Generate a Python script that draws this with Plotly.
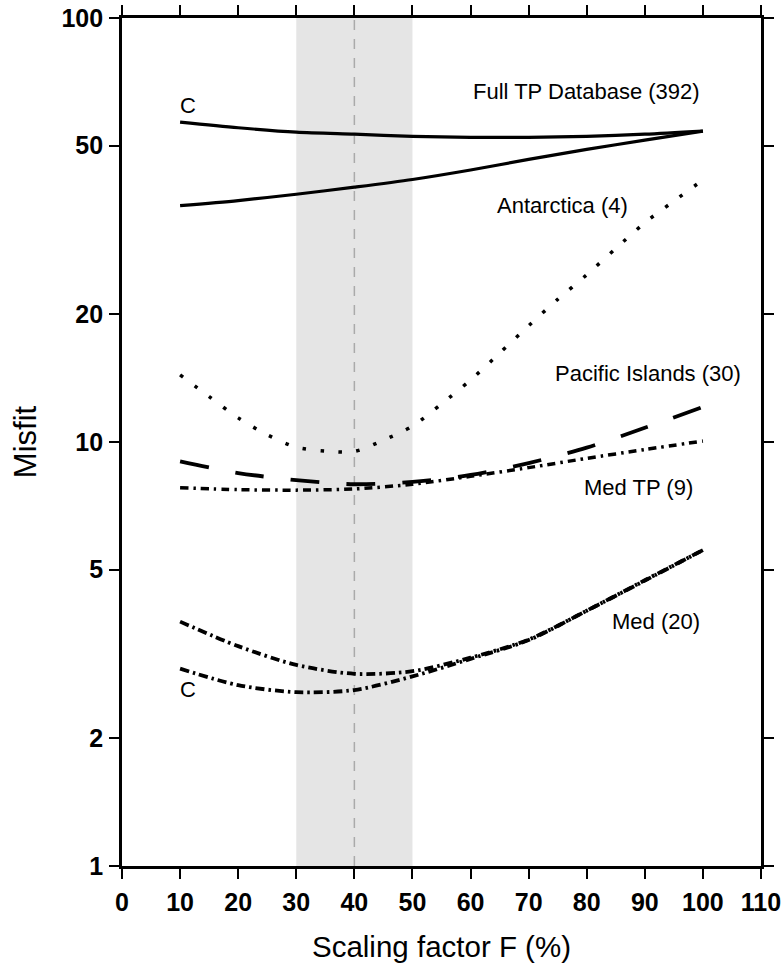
import math
import plotly.graph_objects as go

# Scaling factor F (%) at which the misfit was evaluated
F = [10, 20, 30, 40, 50, 60, 70, 80, 90, 100]
F5 = [10, 15, 20, 25, 30, 35, 40, 45, 50, 55, 60, 65, 70, 75, 80, 85, 90, 95, 100]

# Misfit curves
full_tp = [36.1, 37.1, 38.4, 39.9, 41.6, 43.8, 46.4, 49.0, 51.5, 54.1]
full_tp_c = [56.8, 55.1, 53.8, 53.2, 52.6, 52.3, 52.3, 52.6, 53.2, 54.1]
antarctica = [14.4, 12.8, 11.4, 10.4, 9.72, 9.52, 9.5, 10.1, 10.9, 12.3, 14.0,
              16.2, 18.8, 21.7, 24.8, 28.6, 32.9, 37.0, 41.5]
pacific = [9.0, 8.45, 8.13, 7.95, 8.05, 8.36, 8.92, 9.7, 10.8, 12.1]
med_tp = [7.8, 7.72, 7.7, 7.75, 7.95, 8.3, 8.7, 9.15, 9.6, 10.05]
med = [3.77, 3.30, 2.98, 2.84, 2.88, 3.10, 3.42, 4.0, 4.72, 5.56]
med_c = [2.92, 2.67, 2.57, 2.60, 2.80, 3.08, 3.41, 4.0, 4.71, 5.56]

# Axis ticks
x_ticks = list(range(0, 111, 10))
y_ticks = [1, 2, 5, 10, 20, 50, 100]

# Curve labels: (text, F, misfit, x-anchor)
labels = [
    ("Full TP Database (392)", 99.8, 67, "right"),
    ("Antarctica (4)", 87.4, 36.1, "right"),
    ("Pacific Islands (30)", 106.9, 14.5, "right"),
    ("Med TP (9)", 98.6, 7.79, "right"),
    ("Med (20)", 99.8, 3.77, "right"),
    ("C", 11.4, 62.3, "center"),
    ("C", 11.4, 2.61, "center"),
]

FONT = "Liberation Sans, Arial, sans-serif"

fig = go.Figure()


def add_curve(x, y, dash, width):
    fig.add_trace(go.Scatter(
        x=x, y=y, mode="lines",
        line=dict(color="black", width=width, dash=dash, shape="spline", smoothing=0.8),
        showlegend=False, hoverinfo="skip",
    ))


add_curve(F, full_tp, "solid", 3.2)
add_curve(F, full_tp_c, "solid", 3.2)
add_curve(F5, antarctica, "3.5px,14.5px", 3.5)
add_curve(F, pacific, "29px,27px", 3.8)
add_curve(F, med_tp, "8px,5px,2.5px,5px", 3.5)
add_curve(F, med, "9px,4px,2.5px,4px", 3.8)
add_curve(F, med_c, "9px,4px,2.5px,4px", 3.8)

# Preferred range of F: shaded band with a dashed centre line
fig.add_shape(type="rect", xref="x", yref="paper", x0=30, x1=50, y0=0, y1=1,
              fillcolor="#e5e5e5", line_width=0, layer="below")
fig.add_shape(type="line", xref="x", yref="paper", x0=40, x1=40, y0=0, y1=1,
              line=dict(color="#aaaaaa", width=1.5, dash="10px,9px"), layer="below")

# Annotation y positions on a log axis are given in log10 units
for text, x, y, anchor in labels:
    fig.add_annotation(x=x, y=math.log10(y), xref="x", yref="y", text=text,
                       showarrow=False, xanchor=anchor, yanchor="middle",
                       font=dict(family=FONT, size=22, color="black"))

axis_common = dict(
    showline=True, linecolor="black", linewidth=2.8, mirror="ticks",
    ticks="outside", ticklen=10, tickwidth=2, tickcolor="black",
    showgrid=False, zeroline=False, automargin=False,
    tickfont=dict(family=FONT, size=25, color="black", weight="bold"),
)

fig.update_xaxes(
    range=[0, 110], tickvals=x_ticks, ticktext=[str(v) for v in x_ticks],
    title=dict(text="Scaling factor F (%)", font=dict(family=FONT, size=29.5, color="black"),
               standoff=22),
    ticklabelstandoff=2,
    **axis_common,
)
fig.update_yaxes(
    type="log", range=[0, 2], tickvals=y_ticks, ticktext=[str(v) for v in y_ticks],
    title=dict(text="Misfit", font=dict(family=FONT, size=31, color="black"),
               standoff=16),
    ticklabelstandoff=1,
    **axis_common,
)

fig.update_layout(
    width=783, height=970,
    margin=dict(l=122, r=22, t=18, b=104),
    paper_bgcolor="white", plot_bgcolor="white",
    font=dict(family=FONT),
)

fig.write_html("out.html")
